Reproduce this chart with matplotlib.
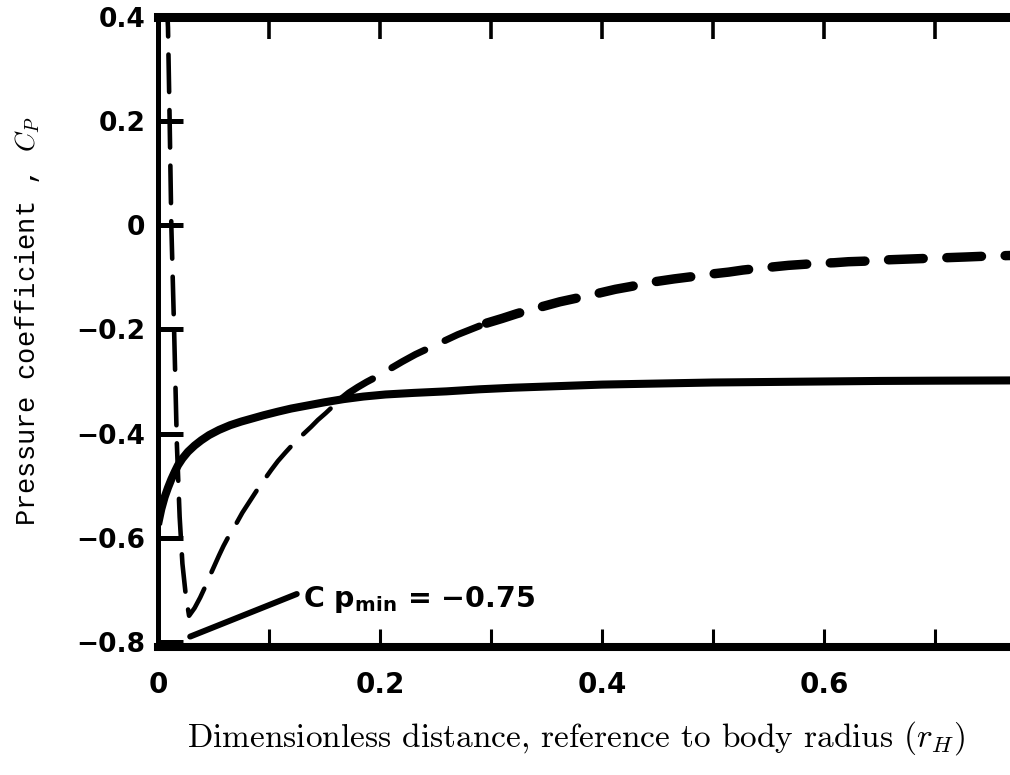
import matplotlib
matplotlib.use("Agg")
import matplotlib.pyplot as plt
import numpy as np

# ---- data -------------------------------------------------------------
# Solid curve: pressure coefficient along the first surface
solid_x = [0.0, 0.003, 0.006, 0.009, 0.012, 0.015, 0.018, 0.022, 0.027,
           0.033, 0.039, 0.046, 0.055, 0.065, 0.075, 0.085, 0.095, 0.108,
           0.120, 0.135, 0.150, 0.167, 0.185, 0.205, 0.230, 0.260, 0.290,
           0.320, 0.360, 0.400, 0.450, 0.500, 0.550, 0.600, 0.650, 0.700,
           0.770]
solid_cp = [-0.575, -0.545, -0.522, -0.504, -0.488, -0.474, -0.461, -0.448,
            -0.435, -0.423, -0.413, -0.403, -0.393, -0.384, -0.377, -0.371,
            -0.365, -0.358, -0.352, -0.346, -0.340, -0.334, -0.329, -0.325,
            -0.322, -0.319, -0.315, -0.312, -0.309, -0.306, -0.304, -0.302,
            -0.301, -0.300, -0.299, -0.2985, -0.298]

# Dashed curve: pressure coefficient along the second surface
dashed_x = [0.0075, 0.009, 0.0105, 0.012, 0.0145, 0.017, 0.0195, 0.022,
            0.025, 0.028, 0.033, 0.038, 0.043, 0.047, 0.051, 0.055, 0.059,
            0.064, 0.070, 0.076, 0.083, 0.090, 0.096, 0.102, 0.108, 0.115,
            0.121, 0.126, 0.132, 0.138, 0.144, 0.151, 0.158, 0.165, 0.172,
            0.180, 0.188, 0.196, 0.208, 0.220, 0.232, 0.245, 0.258, 0.270,
            0.283, 0.296, 0.310, 0.323, 0.336, 0.350, 0.362, 0.375, 0.388,
            0.400, 0.412, 0.425, 0.437, 0.449, 0.465, 0.480, 0.497, 0.514,
            0.527, 0.540, 0.554, 0.568, 0.582, 0.595, 0.609, 0.622, 0.636,
            0.650, 0.662, 0.675, 0.688, 0.700, 0.714, 0.727, 0.750, 0.770]
dashed_cp = [0.45, 0.38, 0.20, 0.00, -0.20, -0.42, -0.56, -0.65,
             -0.71, -0.75, -0.735, -0.715, -0.692, -0.672, -0.653, -0.634,
             -0.616, -0.596, -0.575, -0.552, -0.529, -0.506, -0.488, -0.470,
             -0.453, -0.436, -0.422, -0.411, -0.399, -0.387, -0.374, -0.361,
             -0.347, -0.334, -0.322, -0.311, -0.301, -0.292, -0.277, -0.262,
             -0.248, -0.235, -0.222, -0.210, -0.199, -0.188, -0.179, -0.170,
             -0.162, -0.154, -0.147, -0.141, -0.135, -0.129, -0.123, -0.118,
             -0.113, -0.108, -0.103, -0.099, -0.094, -0.090, -0.086, -0.083,
             -0.080, -0.077, -0.075, -0.073, -0.072, -0.070, -0.069, -0.067,
             -0.066, -0.065, -0.064, -0.063, -0.062, -0.061, -0.059, -0.058]

x_major = [0.0, 0.2, 0.4, 0.6]
x_major_labels = ["0", "0.2", "0.4", "0.6"]
x_minor = [0.1, 0.3, 0.5, 0.7]
y_major = [-0.8, -0.6, -0.4, -0.2, 0.0, 0.2, 0.4]
y_major_labels = ["\u22120.8", "\u22120.6", "\u22120.4", "\u22120.2", "0", "0.2", "0.4"]

# ---- figure -----------------------------------------------------------
plt.rcParams["lines.scale_dashes"] = False

W, H = 1010, 775
fig = plt.figure(figsize=(W / 100, H / 100), dpi=100)
left_px, right_px, top_px, bot_px = 158, 1012, 17, 647
ax = fig.add_axes([left_px / W, 1 - bot_px / H,
                   (right_px - left_px) / W, (bot_px - top_px) / H])
ax.set_xlim(0, 0.7694)
ax.set_ylim(-0.81, 0.40)

ax.spines["right"].set_visible(False)
ax.spines["top"].set_linewidth(6.5)
ax.spines["bottom"].set_linewidth(5.8)
ax.spines["left"].set_linewidth(3.6)
for s in ("top", "bottom", "left"):
    ax.spines[s].set_capstyle("projecting")

# solid curve
ax.plot(solid_x, solid_cp, color="black", lw=5.8,
        solid_capstyle="butt", solid_joinstyle="round")

# dashed curve, drawn heavier further downstream
dx = np.asarray(dashed_x)
dc = np.asarray(dashed_cp)
pieces = [(-1.0, 0.165, 3.3, (27, 13)),
          (0.165, 0.296, 5.0, (27, 16)),
          (0.296, 9.0, 6.8, (25, 17))]
for lo, hi, lw, dash in pieces:
    m = (dx >= lo) & (dx <= hi)
    ax.plot(dx[m], dc[m], color="black", lw=lw, dashes=dash,
            dash_capstyle="round", dash_joinstyle="round")

# minimum-pressure callout
i_min = int(np.argmin(dc))
cp_min = dc[i_min]
label = r"C $\mathbf{p_{min}}$ = " + "\u2212" + f"{abs(cp_min):.2f}"
ax.annotate(label, xy=(dx[i_min] + 0.001, -0.79), xytext=(0.131, -0.718),
            fontsize=20.5, fontweight="bold", family="DejaVu Sans",
            math_fontfamily="dejavusans", ha="left", va="center",
            arrowprops=dict(arrowstyle="-", lw=4.3, color="black",
                            shrinkA=3, shrinkB=0, relpos=(0, 0.75)))

# ---- ticks ------------------------------------------------------------
tick_font = dict(family="DejaVu Sans", weight="bold")
ax.set_xticks(x_major)
ax.set_xticklabels(x_major_labels, fontsize=20, **tick_font)
ax.set_xticks(x_minor, minor=True)
ax.set_yticks(y_major)
ax.set_yticklabels(y_major_labels, fontsize=19, **tick_font)

ax.tick_params(axis="x", which="both", direction="in", top=True, bottom=True,
               length=13, width=2.2, pad=17, color="black")
ax.tick_params(axis="y", which="both", direction="in", left=True, right=False,
               length=18, width=3.6, pad=9, color="black")
for t in ax.xaxis.get_major_ticks() + ax.xaxis.get_minor_ticks():
    t.tick2line.set_markersize(16)
    t.tick2line.set_markeredgewidth(2.6)

# ---- axis titles ------------------------------------------------------
fig.text(576 / W, 1 - 738 / H,
         r"Dimensionless distance, reference to body radius ($r_H$)",
         family="cmr10", math_fontfamily="cm", fontsize=24,
         ha="center", va="center")
fig.text(28 / W, 1 - 321 / H, r"Pressure coefficient , $C_P$",
         family="Liberation Mono", math_fontfamily="cm", fontsize=19.5,
         rotation=90, ha="center", va="center")

fig.savefig("out.png", dpi=100, facecolor="white")
